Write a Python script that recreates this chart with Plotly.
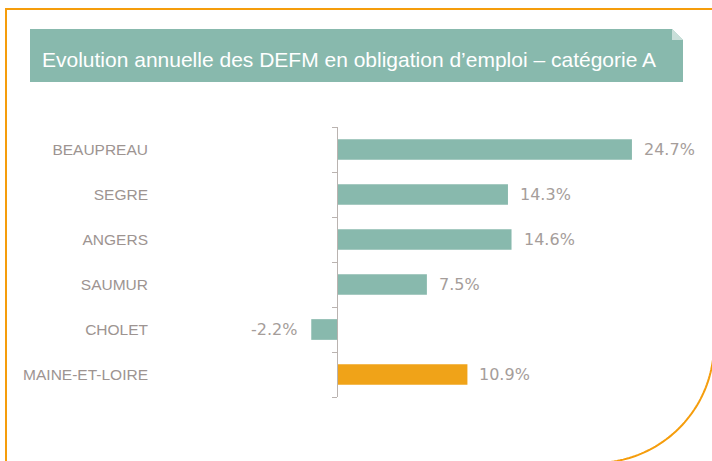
import numpy as np
import plotly.graph_objects as go

# ---- data ----
categories = ["BEAUPREAU", "SEGRE", "ANGERS", "SAUMUR", "CHOLET", "MAINE-ET-LOIRE"]
values = [24.7, 14.3, 14.6, 7.5, -2.2, 10.9]
value_labels = ["24.7%", "14.3%", "14.6%", "7.5%", "-2.2%", "10.9%"]
title_text = "Evolution annuelle des DEFM en obligation d\u2019emploi \u2013 catégorie A"

TEAL = "#88b9ad"
ORANGE_BAR = "#f0a318"
BORDER = "#f59d0c"
GREY = "#9d9491"
VGREY = "#a59d9a"
AXIS = "#bab3b0"

W, H = 712, 461
L, R, T, B = 152, 12, 127, 64
PW, PH = W - L - R, H - T - B

def px(x):
    return (x - L) / PW

def py(y):
    return (H - B - y) / PH

XMIN, XMAX = -15.56, 30.41
zero_pos = (0 - XMIN) / (XMAX - XMIN)

colors = [ORANGE_BAR if c == "MAINE-ET-LOIRE" else TEAL for c in categories]

fig = go.Figure()
fig.add_trace(go.Bar(
    x=values, y=categories, orientation="h",
    marker=dict(color=colors, line=dict(width=0)),
    width=0.46, hoverinfo="skip",
))
fig.add_trace(go.Scatter(x=[0], y=[0], yaxis="y2", mode="markers",
                         marker=dict(opacity=0), hoverinfo="skip", showlegend=False))

annotations = []
for c, v, t in zip(categories, values, value_labels):
    annotations.append(dict(
        x=v, y=c, xref="x", yref="y", text=t, showarrow=False,
        xanchor="left" if v >= 0 else "right",
        xshift=10 if v >= 0 else -12,
        font=dict(family="DejaVu Sans", size=16, color=VGREY),
    ))

# title text
annotations.append(dict(
    x=px(40), y=py(60), xref="paper", yref="paper", text=title_text,
    showarrow=False, xanchor="left", yanchor="middle",
    font=dict(family="Liberation Sans, Arial", size=21, color="white"),
))

shapes = []
# title box with folded corner
box = f"M{px(30)},{py(29)} L{px(672)},{py(29)} L{px(683)},{py(40)} L{px(683)},{py(82)} L{px(30)},{py(82)} Z"
shapes.append(dict(type="path", path=box, xref="paper", yref="paper",
                   fillcolor=TEAL, line=dict(width=0), layer="below"))
fold = f"M{px(672)},{py(29)} L{px(683)},{py(40)} L{px(672)},{py(40)} Z"
shapes.append(dict(type="path", path=fold, xref="paper", yref="paper",
                   fillcolor="#c9dfd9", line=dict(width=0), layer="below"))
# orange frame lines
shapes.append(dict(type="line", xref="paper", yref="paper",
                   x0=px(5), x1=px(713), y0=py(9), y1=py(9),
                   line=dict(color=BORDER, width=2)))
shapes.append(dict(type="line", xref="paper", yref="paper",
                   x0=px(6), x1=px(6), y0=py(9), y1=py(462),
                   line=dict(color=BORDER, width=2)))
# bottom-right arc
cx, cy, rr = 595, 344, 119
ang = np.linspace(0, np.pi / 2, 60)
pts = [(cx + rr * np.cos(a), cy + rr * np.sin(a)) for a in ang]
arc = "M" + " L".join(f"{px(x)},{py(y)}" for x, y in pts)
shapes.append(dict(type="path", path=arc, xref="paper", yref="paper",
                   line=dict(color=BORDER, width=2)))

fig.update_layout(
    width=W, height=H,
    margin=dict(l=L, r=R, t=T, b=B, pad=0),
    paper_bgcolor="white", plot_bgcolor="white",
    showlegend=False,
    bargap=0.54,
    xaxis=dict(range=[XMIN, XMAX], visible=False, fixedrange=True),
    yaxis=dict(type="category", categoryarray=categories, range=[5.5, -0.5],
               showgrid=False, zeroline=False, showline=False, ticks="",
               ticklabelstandoff=3,
               tickfont=dict(family="Liberation Sans, Arial", size=15.5, color=GREY),
               fixedrange=True),
    yaxis2=dict(overlaying="y", anchor="free", position=zero_pos, side="left",
                range=[5.5, -0.5], tickmode="array",
                tickvals=[-0.5, 0.5, 1.5, 2.5, 3.5, 4.5, 5.5],
                showticklabels=False, ticks="outside", ticklen=5,
                tickcolor=AXIS, tickwidth=1.3,
                showline=True, linecolor=AXIS, linewidth=1.3,
                showgrid=False, zeroline=False, fixedrange=True),
    annotations=annotations,
    shapes=shapes,
)

fig.write_html("out.html", config={"displayModeBar": False},
               post_script="document.body.style.margin='0';document.body.style.overflow='hidden';")
